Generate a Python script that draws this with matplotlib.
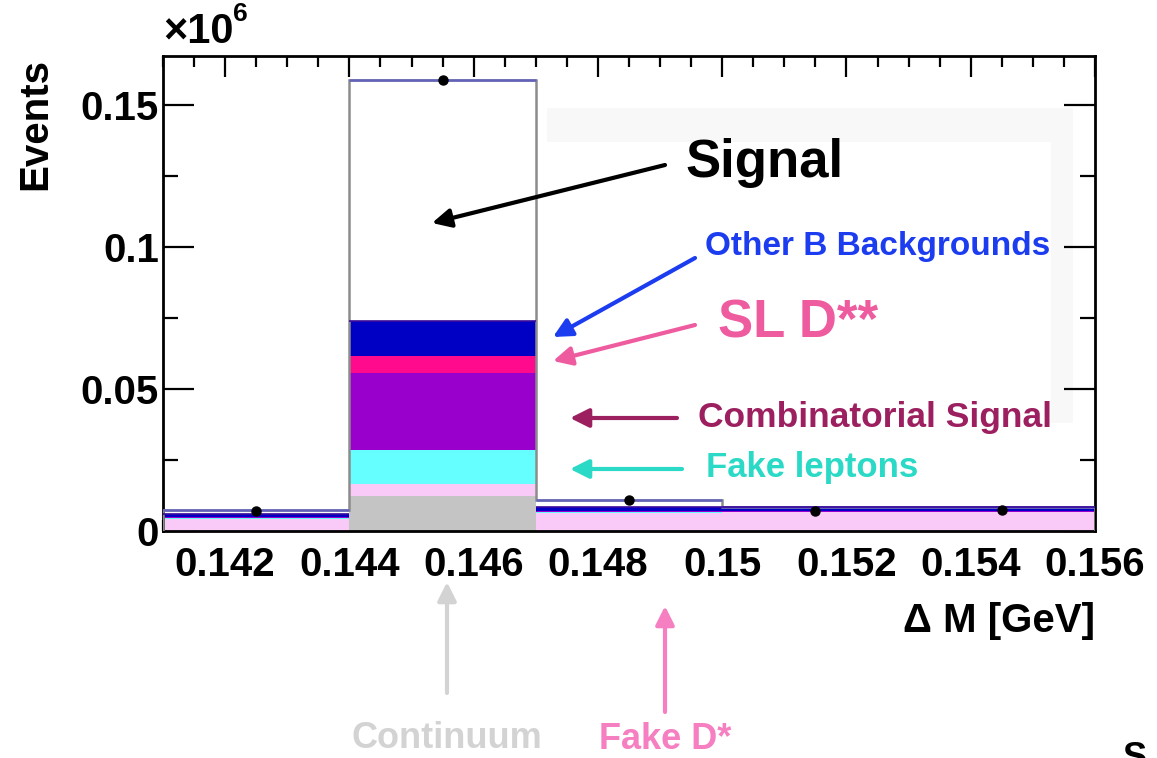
import numpy as np
import matplotlib
matplotlib.use("Agg")
import matplotlib.pyplot as plt
from matplotlib.patches import Rectangle
from matplotlib.ticker import MultipleLocator

W, H = 1157, 758

plt.rcParams["font.family"] = ["Liberation Sans", "DejaVu Sans"]
plt.rcParams["font.weight"] = "bold"

# Delta M binning (GeV) and stacked yields in units of 1e6 events
bin_edges = [0.141, 0.144, 0.147, 0.150, 0.153, 0.156]
continuum = [0.0000, 0.0123, 0.0000, 0.0000, 0.0000]
fake_dstar = [0.0042, 0.0042, 0.0063, 0.0066, 0.0066]
fake_leptons = [0.0003, 0.0120, 0.0003, 0.0002, 0.0002]
combinatorial = [0.0004, 0.0271, 0.0003, 0.0002, 0.0002]
sl_dstarstar = [0.0002, 0.0060, 0.0002, 0.0002, 0.0002]
other_b = [0.0009, 0.0123, 0.0015, 0.0011, 0.0014]
signal = [0.0014, 0.0851, 0.0023, 0.0000, 0.0000]
data = [0.0071, 0.1590, 0.0109, 0.0072, 0.0074]

components = [
    (continuum, "#c4c4c4"),
    (fake_dstar, "#f9c9f8"),
    (fake_leptons, "#66ffff"),
    (combinatorial, "#9900cc"),
    (sl_dstarstar, "#ff0a8c"),
    (other_b, "#0000c4"),
]


def px(x, y):
    """Image pixel position -> figure fraction."""
    return x / W, 1 - y / H


fig = plt.figure(figsize=(W / 100, H / 100), dpi=100)
ax = fig.add_axes([163 / W, 1 - 531 / H, (1095 - 163) / W, (531 - 56) / H])

edges = np.array(bin_edges)
width = np.diff(edges)
left = edges[:-1]
bottom = np.zeros(len(left))
for values, color in components:
    v = np.array(values)
    ax.bar(left, v, width=width, bottom=bottom, align="edge",
           color=color, edgecolor="none", linewidth=0, zorder=2)
    bottom += v

# signal on top of the backgrounds, outlined as a step histogram
sig = np.array(signal)
total = bottom + sig
ax.bar(left, sig, width=width, bottom=bottom, align="edge",
       color="white", edgecolor="none", linewidth=0, zorder=2)
ax.stairs(total, edges, color="#8c8c8c", linewidth=1.8, zorder=3)
ax.hlines(total, left, left + width, color="#6262bc", linewidth=1.8, zorder=3)
ax.hlines(bottom, left, left + width, color="#3a0a9c", linewidth=1.2, zorder=3)

centers = left + width / 2
ax.plot(centers, data, "o", color="black", markersize=6.5, zorder=5)

ax.set_xlim(0.141, 0.156)
ax.set_ylim(0, 0.1673)
ax.xaxis.set_major_locator(MultipleLocator(0.002))
ax.xaxis.set_minor_locator(MultipleLocator(0.0005))
ax.yaxis.set_major_locator(MultipleLocator(0.05))
ax.yaxis.set_minor_locator(MultipleLocator(0.025))
ax.xaxis.set_major_formatter(plt.FuncFormatter(lambda v, p: f"{v:g}"))
ax.yaxis.set_major_formatter(plt.FuncFormatter(lambda v, p: f"{v:g}"))

ax.tick_params(axis="both", which="both", direction="in",
               top=True, right=True, width=1.6, color="black")
ax.tick_params(axis="x", which="major", length=15, pad=11, labelsize=29)
ax.tick_params(axis="x", which="minor", length=8)
ax.tick_params(axis="y", which="major", length=22, pad=3, labelsize=29)
ax.tick_params(axis="y", which="minor", length=11)
for lab in ax.get_xticklabels() + ax.get_yticklabels():
    lab.set_fontweight("bold")
for s in ax.spines.values():
    s.set_linewidth(2.0)

# faint legend shadow box behind the labels
gx0, gy0 = px(547, 423)
gx1, gy1 = px(1073, 108)
fig.patches.append(Rectangle((gx0, gy0), gx1 - gx0, gy1 - gy0,
                             transform=fig.transFigure, facecolor="#f8f8f8",
                             edgecolor="none", zorder=1))
wx1, wy1 = px(1051, 142)
fig.patches.append(Rectangle((gx0, gy0), wx1 - gx0, wy1 - gy0,
                             transform=fig.transFigure, facecolor="white",
                             edgecolor="none", zorder=1))
ax.set_facecolor("none")
ax.set_zorder(2)

# axis titles
fig.text(*px(35, 124), "Events", rotation=90, fontsize=29, fontweight="bold",
         ha="center", va="center")
fig.text(*px(1095, 621), "Δ M [GeV]", fontsize=29, fontweight="bold",
         ha="right", va="center")
fig.text(*px(163, 32), "×10", fontsize=30, fontweight="bold",
         ha="left", va="center")
fig.text(*px(233, 14), "6", fontsize=19, fontweight="bold",
         ha="left", va="center")

# labels and arrows
labels = [
    ("Signal", "black", 38, (685, 163), (665, 165), (432, 223)),
    ("Other B Backgrounds", "#1c3cf0", 24, (705, 246), (695, 258), (553, 337)),
    ("SL D**", "#ee5c9f", 38, (718, 323), (695, 325), (553, 361)),
    ("Combinatorial Signal", "#9c1f60", 25.5, (698, 417), (677, 418), (570, 418)),
    ("Fake leptons", "#2ad9c6", 25, (706, 467), (682, 469), (570, 469)),
]
for text, color, size, tpos, start, end in labels:
    fig.text(*px(*tpos), text, color=color, fontsize=size, fontweight="bold",
             ha="left", va="center", zorder=6)
    ax.annotate("", xy=(end[0], H - end[1]), xycoords="figure pixels",
                xytext=(start[0], H - start[1]), textcoords="figure pixels",
                arrowprops=dict(arrowstyle="-|>", color=color, lw=3,
                                mutation_scale=28, shrinkA=0, shrinkB=0),
                annotation_clip=False, zorder=6)

below = [
    ("Continuum", "#d3d3d3", 26, (447, 756), (447, 693), (447, 582)),
    ("Fake D*", "#f57fc0", 26, (665, 757), (665, 712), (665, 606)),
]
for text, color, size, tpos, start, end in below:
    fig.text(*px(*tpos), text, color=color, fontsize=size, fontweight="bold",
             ha="center", va="bottom")
    ax.annotate("", xy=(end[0], H - end[1]), xycoords="figure pixels",
                xytext=(start[0], H - start[1]), textcoords="figure pixels",
                arrowprops=dict(arrowstyle="-|>", color=color, lw=3,
                                mutation_scale=28, shrinkA=0, shrinkB=0),
                annotation_clip=False)

fig.text(*px(1135, 741), "S", fontsize=26, fontweight="bold",
         ha="center", va="top")

fig.savefig("out.png", dpi=100)
